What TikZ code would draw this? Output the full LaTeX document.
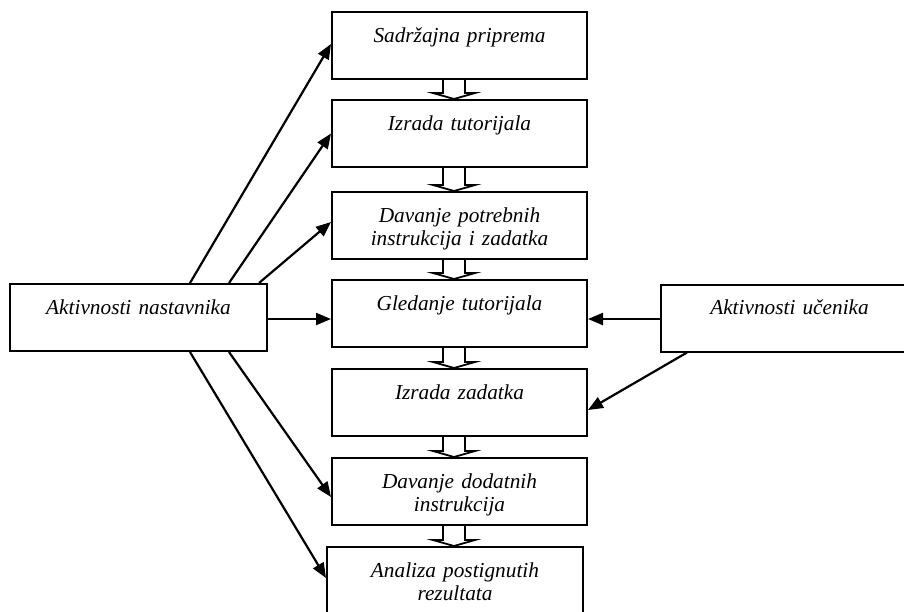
\documentclass[tikz,border=0pt]{standalone}
\usepackage{fontspec}
\setmainfont{Liberation Serif}
\usetikzlibrary{arrows.meta,calc}
\newcommand\hollowdown[2]{%
  \coordinate (#1a) at ($(#1.south)+(-5.5,0)$);
  \coordinate (#1t) at (#1a |- #2.north);
  \draw[hollow] ($(#1a)+(-11,0)$) -- ($(#1t)+(-11,-6)$) -- ($(#1t)+(-21,-6)$) -- (#1t)
     -- ($(#1t)+(21,-6)$) -- ($(#1t)+(11,-6)$) -- ($(#1a)+(11,0)$);}
\begin{document}
\begin{tikzpicture}[x=1pt,y=-1pt,
  box/.style={draw,line width=2pt,rectangle,inner sep=0pt,align=center,
    text height=30pt,text depth=37pt,font=\fontsize{21.3}{23.5}\selectfont\itshape},
  conn/.style={line width=2.2pt,-{Triangle[length=15pt,width=12pt]}},
  hollow/.style={draw,line width=1.8pt,line join=miter}]
\useasboundingbox (0,0) rectangle (904,611);
\node[box,text width=255pt] (b1) at (459.5,45.5) {Sadržajna priprema};
\node[box,text width=255pt] (b2) at (459.5,133.5) {Izrada tutorijala};
\node[box,text width=255pt] (b3) at (459.5,225.5) {Davanje potrebnih\\instrukcija i zadatka};
\node[box,text width=255pt] (b4) at (459.5,313.5) {Gledanje tutorijala};
\node[box,text width=255pt] (b5) at (459.5,402.5) {Izrada zadatka};
\node[box,text width=255pt] (b6) at (459.5,491.5) {Davanje dodatnih\\instrukcija};
\node[box,text width=256pt] (b7) at (455,580.5) {Analiza postignutih\\rezultata};
\node[box,text width=257pt] (lt) at (138.5,317.5) {Aktivnosti nastavnika};
\node[box,text width=257pt] (rt) at (789.5,318) {Aktivnosti učenika};
\hollowdown{b1}{b2}
\hollowdown{b2}{b3}
\hollowdown{b3}{b4}
\hollowdown{b4}{b5}
\hollowdown{b5}{b6}
\hollowdown{b6}{b7}
\coordinate (s1) at ($(lt.north west)+(181,0)$);
\coordinate (s2) at ($(lt.north west)+(220,0)$);
\coordinate (s3) at ($(lt.north west)+(250,0)$);
\coordinate (s4) at ($(lt.south west)+(181,0)$);
\coordinate (s5) at ($(lt.south west)+(220,0)$);
\coordinate (r1) at ($(rt.south west)+(27,0)$);
\coordinate (le) at ($(lt.east)+(0,1.5)$);
\coordinate (re) at ($(rt.west)+(0,1)$);
\draw[conn] (s1) -- ($(b1.west)+(0,-1.5)$);
\draw[conn] (s2) -- (b2.west);
\draw[conn] (s3) -- ($(b3.west)+(0,-3.5)$);
\draw[conn] (le) -- (le -| b4.west);
\draw[conn] (s5) -- ($(b6.west)+(0,5.5)$);
\draw[conn] (s4) -- ($(b7.west)+(0,-2.5)$);
\draw[conn] (re) -- (re -| b4.east);
\draw[conn] (r1) -- ($(b5.east)+(0,7.5)$);
\end{tikzpicture}
\end{document}
